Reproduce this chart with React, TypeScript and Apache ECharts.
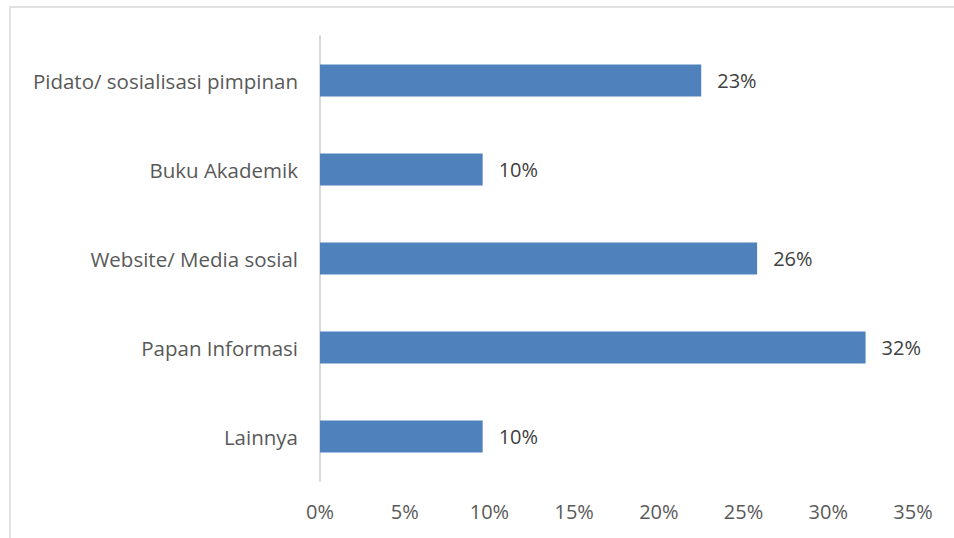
import React, { useEffect, useRef } from "react";
import * as echarts from "echarts";

const categories = [
  "Pidato/ sosialisasi pimpinan",
  "Buku Akademik",
  "Website/ Media sosial",
  "Papan Informasi",
  "Lainnya",
];
const values = [22.5, 9.6, 25.8, 32.2, 9.6];
const xTicks = [0, 5, 10, 15, 20, 25, 30, 35];

export default function App() {
  const ref = useRef<HTMLDivElement>(null);
  useEffect(() => {
    if (!ref.current) return;
    const chart = echarts.init(ref.current, null, { renderer: "svg" });
    const font = "'Open Sans', sans-serif";
    chart.setOption({
      animation: false,
      backgroundColor: "#ffffff",
      textStyle: { fontFamily: font },
      graphic: [
        {
          type: "rect",
          shape: { x: 10, y: 7, width: 960, height: 560 },
          style: { fill: "none", stroke: "#D9D9D9", lineWidth: 1.5 },
          silent: true,
        },
      ],
      grid: { left: 320, right: 41, top: 36, bottom: 57, containLabel: false },
      xAxis: {
        type: "value",
        min: xTicks[0],
        max: xTicks[xTicks.length - 1],
        interval: 5,
        splitLine: { show: false },
        axisLine: { show: false },
        axisTick: { show: false },
        axisLabel: {
          formatter: (v: number) => `${v}%`,
          color: "#595959",
          fontSize: 20,
          fontFamily: font,
          margin: 20,
        },
      },
      yAxis: {
        type: "category",
        data: categories,
        inverse: true,
        axisLine: { show: true, lineStyle: { color: "#D9D9D9", width: 2 } },
        axisTick: { show: false },
        axisLabel: {
          color: "#595959",
          fontSize: 20.5,
          fontFamily: font,
          margin: 22,
        },
      },
      series: [
        {
          type: "bar",
          data: values,
          barWidth: 32,
          itemStyle: { color: "#4F81BD" },
          label: {
            show: true,
            position: "right",
            distance: 16,
            color: "#404040",
            fontSize: 20,
            fontFamily: font,
            formatter: (p: any) => `${Math.round(p.value)}%`,
          },
        },
      ],
    });
    return () => chart.dispose();
  }, []);
  return (
    <div
      ref={ref}
      style={{ position: "fixed", left: 0, top: 0, width: 954, height: 538 }}
    />
  );
}
